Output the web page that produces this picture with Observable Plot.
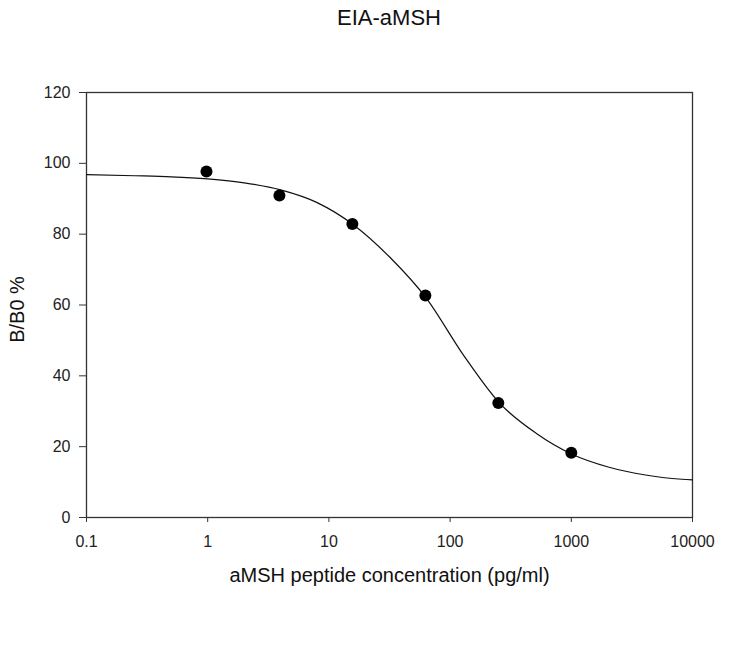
<!DOCTYPE html>
<html>
<head>
<meta charset="utf-8">
<script src="https://cdn.jsdelivr.net/npm/d3@7"></script>
<script src="https://cdn.jsdelivr.net/npm/@observablehq/plot@0.6"></script>
<style>
  html, body { margin: 0; padding: 0; background: #fff; }
  #title { width: 750px; height: 40px; box-sizing: border-box; padding-left: 28px; padding-top: 2px; text-align: center; font-family: "Liberation Sans", Arial, sans-serif; font-size: 22px; line-height: 32px; color: #111; }
</style>
</head>
<body>
<div id="title">EIA-aMSH</div>
<div id="chart"></div>
<script>
// Measured standards (concentration pg/ml, B/B0 %)
const concentrations = [0.977, 3.906, 15.625, 62.5, 250, 1000];
const bb0 = [97.7, 90.9, 82.9, 62.7, 32.3, 18.3];

// Fitted curve
const curveX = [0.1, 0.25, 0.5, 1, 2, 4, 8, 16, 32, 64, 128, 256, 512, 1024, 2048, 4096, 8192, 10000];
const curveY = [96.8, 96.5, 96.2, 95.6, 94.5, 92.5, 88.9, 82.6, 73.4, 61.8, 46.0, 32.3, 23.8, 17.8, 14.2, 12.0, 10.8, 10.6];

const xTicks = [0.1, 1, 10, 100, 1000, 10000];
const yTicks = [0, 20, 40, 60, 80, 100, 120];
const xLabel = "aMSH peptide concentration (pg/ml)";
const yLabel = "B/B0 %";

const points = concentrations.map((c, i) => ({x: c, y: bb0[i]}));
const curve = curveX.map((c, i) => ({x: c, y: curveY[i]}));

const chart = Plot.plot({
  width: 750,
  height: 621,
  marginTop: 52,
  marginBottom: 144,
  marginLeft: 86,
  marginRight: 58,
  style: {fontFamily: "'Liberation Sans', Arial, sans-serif", fontSize: "16px", color: "#222", background: "#fff"},
  x: {type: "log", domain: [0.1, 10000]},
  y: {domain: [0, 120]},
  marks: [
    Plot.frame({stroke: "#333", strokeWidth: 1.3}),
    Plot.line(curve, {x: "x", y: "y", stroke: "#111", strokeWidth: 1.2, curve: "monotone-x"}),
    Plot.dot(points, {x: "x", y: "y", r: 6, fill: "#000", stroke: "none"}),
    Plot.axisY({ticks: yTicks, tickSize: 7, tickPadding: 9, stroke: "#333", label: null, fontSize: 16}),
    Plot.axisX({ticks: xTicks, tickFormat: d => String(d), tickSize: 5, tickPadding: 13, stroke: "#333", label: null, fontSize: 16}),
    Plot.text([yLabel], {text: d => d, frameAnchor: "left", rotate: -90, dx: -68.5, dy: 4.5, fontSize: 20, fill: "#111", lineAnchor: "middle", textAnchor: "middle"}),
    Plot.text([xLabel], {text: d => d, frameAnchor: "bottom", dy: 58.5, fontSize: 20, fill: "#111", lineAnchor: "middle", textAnchor: "middle"})
  ]
});
document.getElementById("chart").appendChild(chart);
</script>
</body>
</html>
